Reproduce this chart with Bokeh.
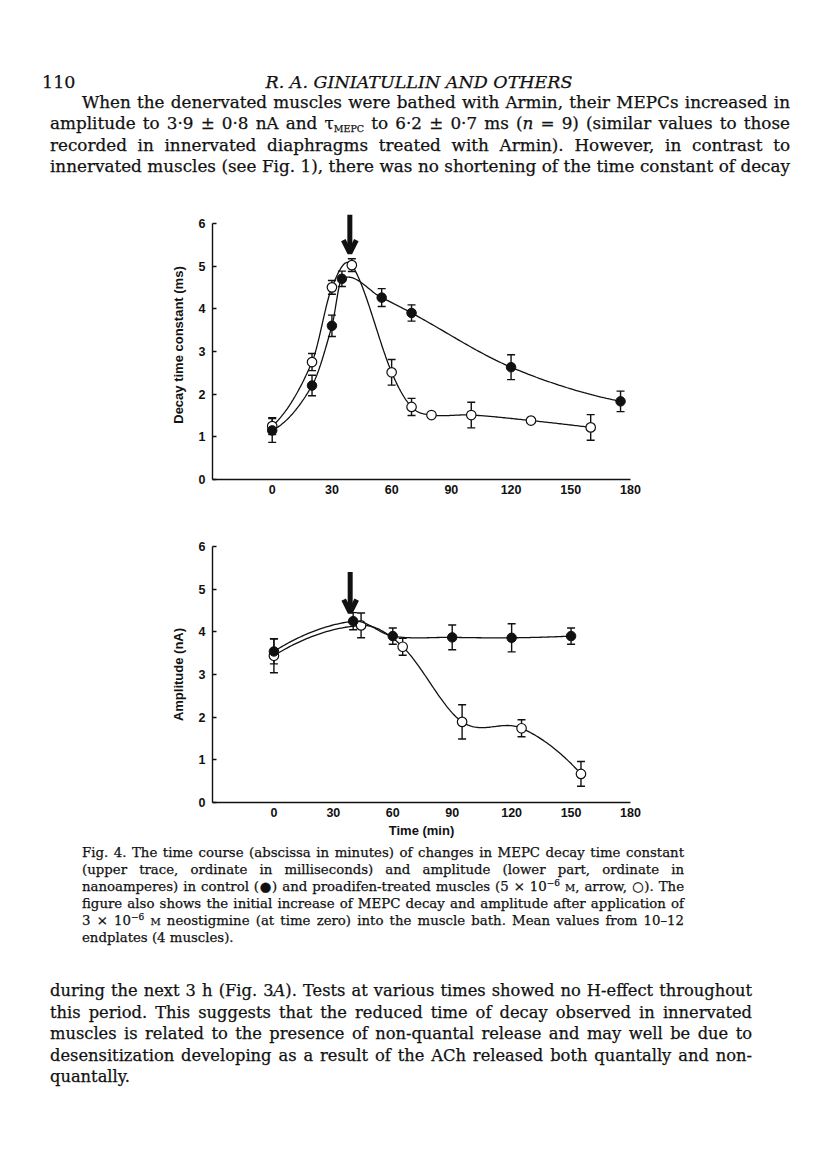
import numpy as np
from bokeh.plotting import figure
from bokeh.models import (ColumnDataSource, Whisker, TeeHead, Arrow, OpenHead,
                          Div, FixedTicker, Range1d)
from bokeh.layouts import column
from bokeh.embed import file_html
from bokeh.resources import INLINE

# ---------------- data ----------------
x_ticks = [0, 30, 60, 90, 120, 150, 180]
y_ticks = [0, 1, 2, 3, 4, 5, 6]

# upper panel: decay time constant (ms)
top_ctrl_t = [0, 20, 30, 35, 55, 70, 120, 175]
top_ctrl_v = [1.15, 2.2, 3.6, 4.7, 4.26, 3.9, 2.63, 1.83]
top_ctrl_e = [0.28, 0.24, 0.25, 0.18, 0.21, 0.19, 0.29, 0.24]

top_prod_t = [0, 20, 30, 40, 60, 70, 80, 100, 130, 160]
top_prod_v = [1.25, 2.75, 4.5, 5.02, 2.51, 1.7, 1.51, 1.51, 1.38, 1.22]
top_prod_e = [0.2, 0.2, 0.16, 0.15, 0.3, 0.2, 0.0, 0.3, 0.0, 0.3]

top_arrow_t = 39
top_arrow_from = 6.2
top_arrow_to = 5.3

# lower panel: amplitude (nA)
bot_ctrl_t = [0, 40, 60, 90, 120, 150]
bot_ctrl_v = [3.54, 4.25, 3.9, 3.87, 3.86, 3.9]
bot_ctrl_e = [0.29, 0.2, 0.19, 0.29, 0.33, 0.19]

bot_prod_t = [0, 44, 65, 95, 125, 155]
bot_prod_v = [3.44, 4.15, 3.65, 1.89, 1.74, 0.67]
bot_prod_e = [0.4, 0.29, 0.2, 0.4, 0.2, 0.29]

bot_arrow_t = 38.5
bot_arrow_from = 5.4
bot_arrow_to = 4.45

# ---------------- helpers ----------------
INK = "#111111"


def smooth(xs, ys, n=40):
    """cubic Hermite curve through the data points"""
    x = np.asarray(xs, float)
    y = np.asarray(ys, float)
    sec = np.diff(y) / np.diff(x)
    m = np.empty_like(y)
    m[1:-1] = (y[2:] - y[:-2]) / (x[2:] - x[:-2])
    m[0] = 2 * sec[0] - m[1]
    m[-1] = 2 * sec[-1] - m[-2]
    cx, cy = [], []
    for i in range(len(x) - 1):
        h = x[i + 1] - x[i]
        t = np.linspace(0, 1, n, endpoint=(i == len(x) - 2))
        h00 = 2 * t**3 - 3 * t**2 + 1
        h10 = t**3 - 2 * t**2 + t
        h01 = -2 * t**3 + 3 * t**2
        h11 = t**3 - t**2
        cx.extend(x[i] + t * h)
        cy.extend(h00 * y[i] + h10 * h * m[i] + h01 * y[i + 1] + h11 * h * m[i + 1])
    return cx, cy


def add_series(p, t, v, e, filled):
    cx, cy = smooth(t, v)
    p.line(cx, cy, line_color=INK, line_width=1.3)
    keep = [i for i in range(len(t)) if e[i] > 0]
    src = ColumnDataSource(dict(
        t=[t[i] for i in keep],
        lo=[v[i] - e[i] for i in keep],
        hi=[v[i] + e[i] for i in keep]))
    w = Whisker(source=src, base="t", upper="hi", lower="lo",
                line_color=INK, line_width=1.4,
                upper_head=TeeHead(size=8, line_color=INK, line_width=1.4),
                lower_head=TeeHead(size=8, line_color=INK, line_width=1.4))
    p.add_layout(w)
    if filled:
        p.scatter(t, v, marker="circle", size=9.5, fill_color=INK, line_color=INK)
    else:
        p.scatter(t, v, marker="circle", size=9.5, fill_color="white",
                  line_color=INK, line_width=1.2)


def make_fig(height, xr, yr, bl, br, bt, bb, ylabel, xlabel=None):
    p = figure(width=800, height=height, x_range=Range1d(*xr), y_range=Range1d(*yr),
               output_backend="svg", toolbar_location=None,
               min_border_left=bl, min_border_right=br,
               min_border_top=bt, min_border_bottom=bb, margin=(0, 0, 0, 0))
    p.outline_line_color = None
    p.grid.visible = False
    p.background_fill_color = "white"
    p.border_fill_color = "white"
    for ax in (p.xaxis[0], p.yaxis[0]):
        ax.axis_line_color = INK
        ax.axis_line_width = 1.4
        ax.major_tick_line_color = INK
        ax.major_tick_line_width = 1.4
        ax.minor_tick_line_color = None
        ax.major_label_text_font = "Liberation Sans"
        ax.major_label_text_font_style = "bold"
        ax.major_label_text_font_size = "12.5px"
        ax.major_label_text_color = INK
        ax.axis_label_text_font = "Liberation Sans"
        ax.axis_label_text_font_style = "bold"
        ax.axis_label_text_font_size = "13px"
        ax.axis_label_text_color = INK
    p.xaxis.ticker = FixedTicker(ticks=x_ticks)
    p.xaxis.major_tick_in = 0
    p.xaxis.major_tick_out = 0
    p.xaxis.major_label_standoff = 5
    p.yaxis.ticker = FixedTicker(ticks=y_ticks)
    p.yaxis.major_tick_in = 4
    p.yaxis.major_tick_out = 0
    p.yaxis.major_label_standoff = 7
    p.yaxis.bounds = (0, 6)
    p.yaxis.axis_label = ylabel
    p.yaxis.axis_label_standoff = 10
    if xlabel:
        p.xaxis.axis_label = xlabel
        p.xaxis.axis_label_standoff = 3
    return p


# ---------------- upper chart ----------------
p1 = make_fig(320, (-30, 180), (0, 6.3), 202, 178, 25, 26, "Decay time constant (ms)")
add_series(p1, top_prod_t, top_prod_v, top_prod_e, filled=False)
add_series(p1, top_ctrl_t, top_ctrl_v, top_ctrl_e, filled=True)
p1.add_layout(Arrow(x_start=top_arrow_t, y_start=top_arrow_from,
                    x_end=top_arrow_t, y_end=top_arrow_to,
                    line_color=INK, line_width=5,
                    end=OpenHead(size=13, line_color=INK, line_width=5)))

# ---------------- lower chart ----------------
p2 = make_fig(335, (-31, 180), (0, 6), 204, 177, 41, 38, "Amplitude (nA)", "Time (min)")
add_series(p2, bot_prod_t, bot_prod_v, bot_prod_e, filled=False)
add_series(p2, bot_ctrl_t, bot_ctrl_v, bot_ctrl_e, filled=True)
p2.add_layout(Arrow(x_start=bot_arrow_t, y_start=bot_arrow_from,
                    x_end=bot_arrow_t, y_end=bot_arrow_to,
                    line_color=INK, line_width=5,
                    end=OpenHead(size=13, line_color=INK, line_width=5)))

# ---------------- page text ----------------
SERIF = "'DejaVu Serif', 'Liberation Serif', serif"
SUP = "font-size:9px;position:relative;top:-0.6em;line-height:0;vertical-align:baseline;"
SUB = "font-size:9.5px;position:relative;top:0.35em;line-height:0;vertical-align:baseline;"


def line(text, left, top, width, size, lh, justify=True, extra=""):
    st = (f"position:absolute;left:{left}px;top:{top}px;width:{width}px;height:{lh}px;"
          f"font-size:{size}px;line-height:{lh}px;white-space:nowrap;color:{INK};"
          "-webkit-text-stroke:0.25px #111111;")
    if justify:
        st += "text-align:justify;text-align-last:justify;"
    st += extra
    return f'<div style="{st}">{text}</div>'


para1 = [
    "When the denervated muscles were bathed with Armin, their MEPCs increased in",
    f"amplitude to 3·9 ± 0·8 nA and τ<span style='{SUB}'>MEPC</span> to 6·2 ± 0·7 ms "
    "(<i>n</i> = 9) (similar values to those",
    "recorded in innervated diaphragms treated with Armin). However, in contrast to",
    "innervated muscles (see Fig. 1), there was no shortening of the time constant of decay",
]
caption = [
    "Fig. 4. The time course (abscissa in minutes) of changes in MEPC decay time constant",
    "(upper trace, ordinate in milliseconds) and amplitude (lower part, ordinate in",
    "nanoamperes) in control (●) and proadifen-treated muscles "
    f"(5 × 10<span style='{SUP}'>−6</span> <span style='font-size:10px'>M</span>, arrow, ○). The",
    "figure also shows the initial increase of MEPC decay and amplitude after application of",
    f"3 × 10<span style='{SUP}'>−6</span> <span style='font-size:10px'>M</span> "
    "neostigmine (at time zero) into the muscle bath. Mean values from 10–12",
    "endplates (4 muscles).",
]
para2 = [
    "during the next 3 h (Fig. 3<i>A</i>). Tests at various times showed no H-effect throughout",
    "this period. This suggests that the reduced time of decay observed in innervated",
    "muscles is related to the presence of non-quantal release and may well be due to",
    "desensitization developing as a result of the ACh released both quantally and non-",
    "quantally.",
]

BODY1 = 16.8
BODY2 = 16.3
top_html = [line("110", 34, 64, 60, 17.5, 20, justify=False)]
top_html.append(line("R. A. GINIATULLIN AND OTHERS", 211, 64, 400, 17.5, 20,
                     justify=False, extra="text-align:center;font-style:italic;"))
p1_tops = [84, 105, 127, 148]
for i, (txt, tp) in enumerate(zip(para1, p1_tops)):
    if i == 0:
        top_html.append(line(txt, 74, tp, 708, BODY1, 20))
    else:
        top_html.append(line(txt, 42, tp, 740, BODY1, 20))

bot_html = []
cap_tops = [4, 21, 38, 55, 72, 89]
for i, (txt, tp) in enumerate(zip(caption, cap_tops)):
    bot_html.append(line(txt, 74, tp, 602, 13.3, 17, justify=(i < len(caption) - 1)))
p2_tops = [140, 162, 183, 205, 226]
for i, (txt, tp) in enumerate(zip(para2, p2_tops)):
    bot_html.append(line(txt, 42, tp, 702, BODY2, 21, justify=(i < len(para2) - 1)))


def page_div(parts, h):
    html = (f'<div style="position:relative;width:800px;height:{h}px;'
            f'font-family:{SERIF};">' + "".join(parts) + "</div>")
    return Div(text=html, width=800, height=h, margin=(0, 0, 0, 0))


div_top = page_div(top_html, 177)
div_bot = page_div(bot_html, 328)

page = column(div_top, p1, p2, div_bot, spacing=0, margin=(8, 8, 8, 8))

with open("out.html", "w") as f:
    f.write(file_html(page, INLINE, title="Fig. 4"))
